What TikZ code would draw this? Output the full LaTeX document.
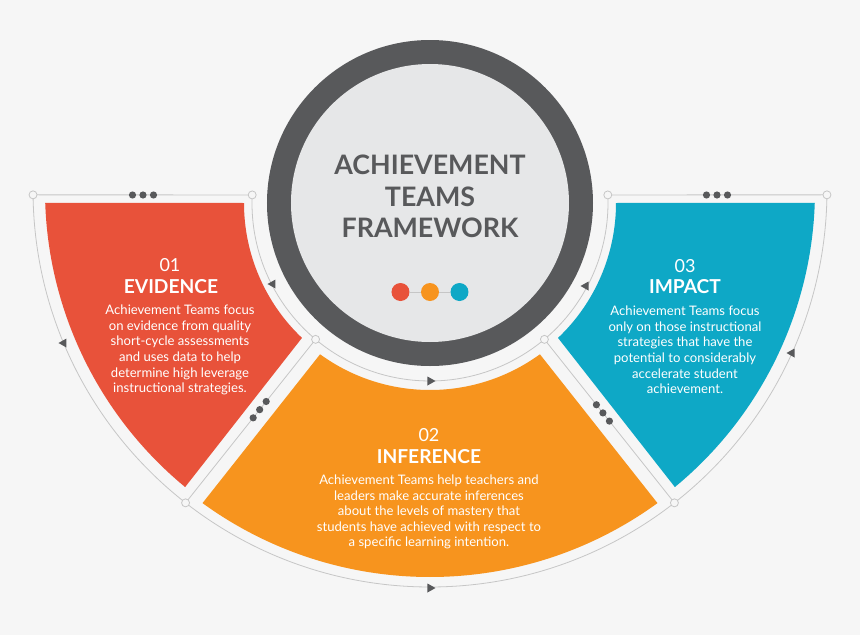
\documentclass[tikz,border=0pt]{standalone}
\usepackage{fontspec}
\setmainfont{Lato}
\usetikzlibrary{calc}
\definecolor{evired}{HTML}{E8523A}
\definecolor{infora}{HTML}{F7941E}
\definecolor{impblue}{HTML}{0EA8C6}
\definecolor{ringgray}{HTML}{58595B}
\definecolor{facegray}{HTML}{E6E7E8}
\definecolor{paper}{HTML}{F6F6F6}
\definecolor{linegray}{HTML}{C6C6C6}
\tikzset{
	wireline/.style={draw=linegray, line width=0.8pt},
	knob/.style={draw=linegray, fill=paper, line width=0.8pt},
	dot/.style={circle, inner sep=0pt, minimum size=18pt},
	numtxt/.style={text=white, inner sep=0pt, font=\fontsize{18}{20}\selectfont},
	headtxt/.style={text=white, inner sep=0pt, font=\fontsize{19.2}{21}\selectfont\bfseries},
	bodytxt/.style={text=white, inner sep=0pt, align=center, font=\fontsize{13.1}{15.6}\selectfont},
}
\def\flowtip(#1)[#2]{\fill[ringgray, shift={(#1)}, rotate=#2] (-3.5,-4.5) -- (-3.5,4.5) -- (4.5,0) -- cycle;}

\begin{document}
\begin{tikzpicture}[x=1pt, y=1pt]
			%%%%% START %%%%%
			\fill[paper] (-430,-432) rectangle (430,203);
			\useasboundingbox (-430,-432) rectangle (430,203);
			
			% sectors
			\fill[evired] (-186,0) -- ($(0,13)+(181.9:385)$) arc[start angle=181.9, end angle=230.5, radius=385] -- (226.5:186) arc[start angle=226.5, end angle=180, radius=186] -- cycle;
			\fill[impblue] (186,0) -- ($(0,13)+(-1.9:385)$) arc[start angle=-1.9, end angle=-50.5, radius=385] -- (-46.5:186) arc[start angle=-46.5, end angle=0, radius=186] -- cycle;
			\fill[infora] (234:187) arc[start angle=234, end angle=306, radius=187] -- ($(0,13)+(306:387)$) arc[start angle=306, end angle=234, radius=387] -- cycle;
			
			% ring
			\fill[ringgray] (0,0) circle (163);
			\fill[facegray] (0,0) circle (139);
			
			% thin frame
			\coordinate (otl) at ($(0,13)+(180.7:397)$);
			\coordinate (otr) at ($(0,13)+(-0.7:397)$);
			\coordinate (itl) at (177.4:178);
			\coordinate (itr) at (2.6:178);
			\coordinate (ibl) at (230:178);
			\coordinate (ibr) at (310:178);
			\coordinate (obl) at ($(0,13)+(232:397)$);
			\coordinate (obr) at ($(0,13)+(308:397)$);
			
			\draw[wireline] (otl) -- (itl);
			\draw[wireline] (itr) -- (otr);
			\draw[wireline] (itl) arc[start angle=177.4, end angle=362.6, radius=178];
			\draw[wireline] (otl) arc[start angle=180.7, end angle=359.3, radius=397];
			\draw[wireline] (ibl) -- (obl);
			\draw[wireline] (ibr) -- (obr);
			
			\foreach \k in {otl,otr,itl,itr,ibl,ibr,obl,obr}
				\draw[knob] (\k) circle (4);
			
			\foreach \x in {-297.5,-287,-276.5}
				\fill[ringgray] (\x,8) circle (3.6);
			\foreach \x in {276.5,287,297.5}
				\fill[ringgray] (\x,8) circle (3.6);
			\foreach \t in {0.38,0.43,0.48}
				\fill[ringgray] ($(ibl)!\t!(obl)$) circle (3.6);
			\foreach \t in {0.40,0.45,0.50}
				\fill[ringgray] ($(ibr)!\t!(obr)$) circle (3.6);
			
			\flowtip(-367,-140)[180]
			\flowtip(-158,-81)[180]
			\flowtip(155,-83)[180]
			\flowtip(361,-150)[180]
			\flowtip(1,-178)[0]
			\flowtip(1,-385)[0]
			
			% centre
			\node[text=ringgray, align=center, inner sep=0pt, font=\fontsize{26.8}{31.5}\selectfont\bfseries] (title) at (0,6.5) {ACHIEVEMENT\\TEAMS\\FRAMEWORK};
			\node[dot, fill=evired] (d1) at (-29.5,-89) {};
			\node[dot, fill=infora] (d2) at (0,-89) {};
			\node[dot, fill=impblue] (d3) at (29.5,-89) {};
			\draw[linegray, line width=0.8pt] (d1) -- (d2) -- (d3);
			
			% texts
			\node[numtxt] (n1) at (-260,-62) {01};
			\node[headtxt] (h1) at (-259,-84) {EVIDENCE};
			\node[bodytxt] (b1) at (-250,-147) {Achievement Teams focus\\on evidence from quality\\short-cycle assessments\\and uses data to help\\determine high leverage\\instructional strategies.};
			
			\node[numtxt] (n2) at (-1,-232) {02};
			\node[headtxt] (h2) at (-1,-254) {INFERENCE};
			\node[bodytxt] (b2) at (-1,-309) {Achievement Teams help teachers and\\leaders make accurate inferences\\about the levels of mastery that\\students have achieved with respect to\\a specific learning intention.};
			
			\node[numtxt] (n3) at (255,-63) {03};
			\node[headtxt] (h3) at (255,-84) {IMPACT};
			\node[bodytxt] (b3) at (255,-147) {Achievement Teams focus\\only on those instructional\\strategies that have the\\potential to considerably\\accelerate student\\achievement.};
			%%%%% END %%%%%
\end{tikzpicture}
\end{document}
